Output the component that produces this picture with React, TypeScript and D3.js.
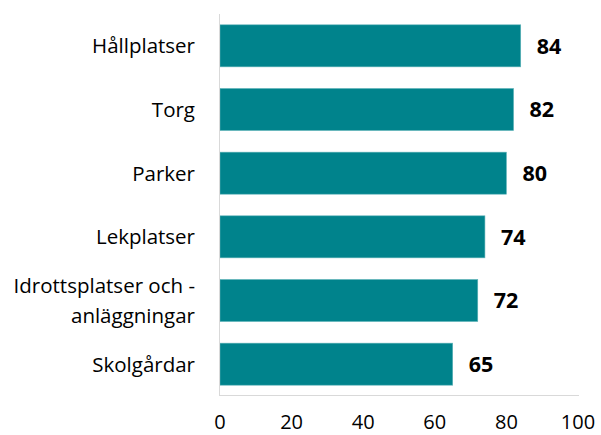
import React from "react";
import * as d3 from "d3";

const categories = ["Hållplatser", "Torg", "Parker", "Lekplatser", "Idrottsplatser och -\nanläggningar", "Skolgårdar"];
const values = [84, 82, 80, 74, 72, 65];
const ticks = [0, 20, 40, 60, 80, 100];

const W = 601, H = 435;
const FONT = "'Open Sans', 'Noto Sans', sans-serif";

export default function App() {
  const x = d3.scaleLinear().domain([0, 100]).range([220, 578]);
  const y = d3.scaleBand<string>().domain(categories).range([14, 396]).paddingInner(0.34).paddingOuter(0.17);
  const color = "#00838C";
  return (
    <svg width={W} height={H} style={{ position: "absolute", left: 0, top: 0, background: "#fff" }}>
      {categories.map((c, i) => {
        const y0 = y(c)!;
        const lines = c.split("\n");
        const cy = y0 + y.bandwidth() / 2;
        return (
          <g key={c}>
            <rect x={x(0)} y={y0} width={x(values[i]) - x(0)} height={y.bandwidth()} fill={color} stroke="#5fb3b8" strokeWidth={0.6} />
            <text x={x(values[i]) + 16} y={cy} dy="0.36em" fontFamily={FONT} fontWeight="bold" fontSize={21.5} fill="#000">{values[i]}</text>
            {lines.map((l, j) => (
              <text key={j} x={195} y={cy + (j - (lines.length - 1) / 2) * 30} dy="0.36em" textAnchor="end" fontFamily={FONT} fontSize={20.5} fill="#000">{l}</text>
            ))}
          </g>
        );
      })}
      <line x1={219.5} x2={219.5} y1={14} y2={396} stroke="#d9d9d9" strokeWidth={1} />
      <line x1={219} x2={579} y1={395.5} y2={395.5} stroke="#d9d9d9" strokeWidth={1} />
      {ticks.map(t => (
        <text key={t} x={x(t)} y={429} textAnchor="middle" fontFamily={FONT} fontSize={20} fill="#000">{t}</text>
      ))}
    </svg>
  );
}
